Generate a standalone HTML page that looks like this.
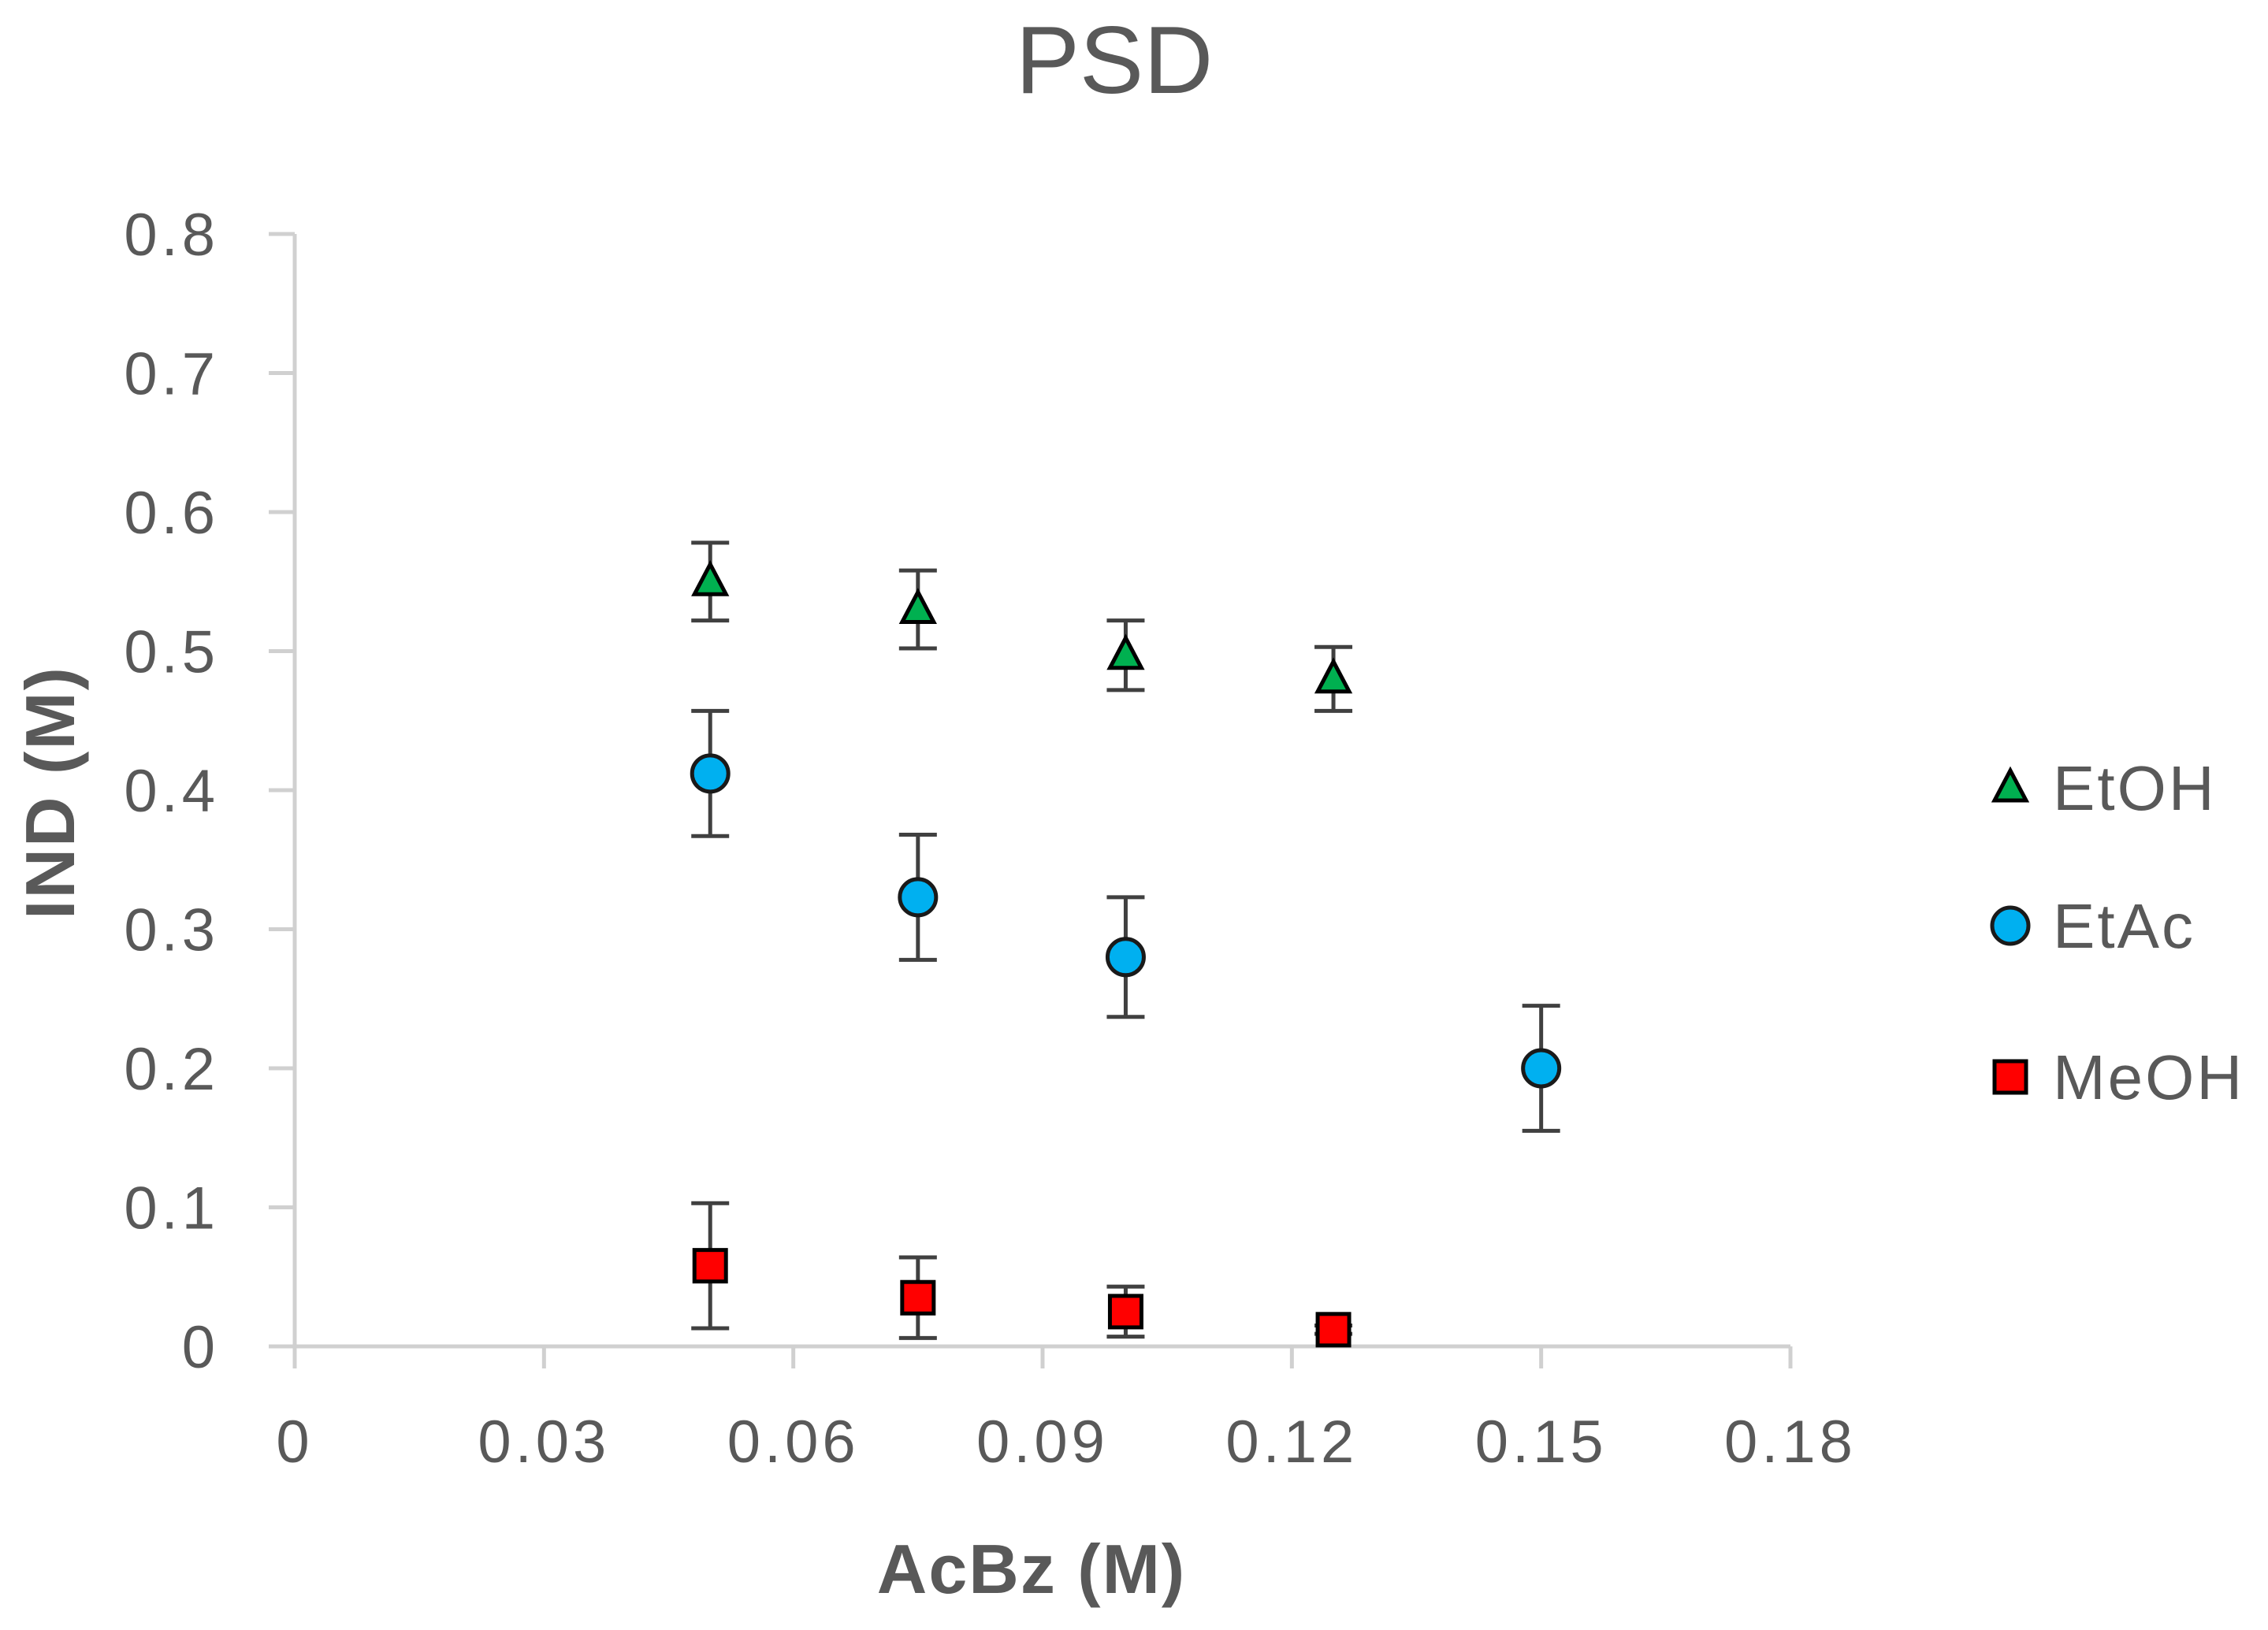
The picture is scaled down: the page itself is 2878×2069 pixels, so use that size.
<!DOCTYPE html>
<html><head><meta charset="utf-8"><style>
html,body{margin:0;padding:0;background:#fff}
svg{display:block}
text{font-family:"Liberation Sans",sans-serif}
</style></head><body>
<svg id="chart" width="2878" height="2069" viewBox="0 0 2878 2069">
<text x="1414" y="118" text-anchor="middle" font-size="122" fill="#595959">PSD</text>
<g id="axes"></g>
<g id="marks"></g>
<text x="1309" y="2022" text-anchor="middle" font-size="88" font-weight="bold" fill="#595959" letter-spacing="2">AcBz (M)</text>
<text transform="translate(94,1006) rotate(-90)" text-anchor="middle" font-size="88" font-weight="bold" fill="#595959" letter-spacing="2">IND (M)</text>
<g id="legend"></g>
</svg>
<script>
const xTicks = [0, 0.03, 0.06, 0.09, 0.12, 0.15, 0.18];
const xTickLabels = ["0", "0.03", "0.06", "0.09", "0.12", "0.15", "0.18"];
const yTicks = [0, 0.1, 0.2, 0.3, 0.4, 0.5, 0.6, 0.7, 0.8];
const yTickLabels = ["0", "0.1", "0.2", "0.3", "0.4", "0.5", "0.6", "0.7", "0.8"];
const seriesNames = ["EtOH", "EtAc", "MeOH"];
const etohX = [0.05, 0.075, 0.1, 0.125];
const etohY = [0.55, 0.53, 0.497, 0.48];
const etohErr = [0.028, 0.028, 0.025, 0.023];
const etacX = [0.05, 0.075, 0.1, 0.15];
const etacY = [0.412, 0.323, 0.28, 0.2];
const etacErr = [0.045, 0.045, 0.043, 0.045];
const meohX = [0.05, 0.075, 0.1, 0.125];
const meohY = [0.058, 0.035, 0.025, 0.012];
const meohErr = [0.045, 0.029, 0.018, 0.003];

const NS = "http://www.w3.org/2000/svg";
const X0 = 374, X1 = 2272, Y0 = 1709, Y1 = 297;
function sx(v){ return X0 + (v - 0) / 0.18 * (X1 - X0); }
function sy(v){ return Y0 - (v - 0) / 0.8 * (Y0 - Y1); }
function mk(tag, attrs, parent){
  const e = document.createElementNS(NS, tag);
  for (const k in attrs) e.setAttribute(k, attrs[k]);
  parent.appendChild(e);
  return e;
}
const axes = document.getElementById("axes");
const marks = document.getElementById("marks");
const legend = document.getElementById("legend");
const axisCol = "#d0d0d0";

let l = mk("line", {x1: X0, y1: Y1, x2: X0, y2: Y0, stroke: axisCol, "stroke-width": 5}, axes);


l = mk("line", {x1: X0 - 33, y1: Y0, x2: X1, y2: Y0, stroke: axisCol, "stroke-width": 5}, axes);



yTicks.forEach((v, i) => {
  const y = sy(v);
  const t = mk("line", {x1: X0 - 33, y1: y, x2: X0, y2: y, stroke: axisCol, "stroke-width": 5}, axes);
  
  
  const tx = mk("text", {x: 278, y: y + 27, "text-anchor": "end", "font-size": 76, "letter-spacing": 5, fill: "#595959"}, axes);
  tx.textContent = yTickLabels[i];
  
  
});
xTicks.forEach((v, i) => {
  const x = sx(v);
  const t = mk("line", {x1: x, y1: Y0, x2: x, y2: Y0 + 28, stroke: axisCol, "stroke-width": 5}, axes);
  
  
  const tx = mk("text", {x: x, y: 1856, "text-anchor": "middle", "font-size": 76, "letter-spacing": 5, fill: "#595959"}, axes);
  tx.textContent = xTickLabels[i];
  
  
});

function errBar(x, y, e, name){
  const g = mk("g", {stroke: "#404040", "stroke-width": 5}, marks);
  
  
  const px = sx(x), yt = sy(y + e), yb = sy(y - e);
  mk("line", {x1: px, y1: yt, x2: px, y2: yb}, g);
  mk("line", {x1: px - 24, y1: yt, x2: px + 24, y2: yt}, g);
  mk("line", {x1: px - 24, y1: yb, x2: px + 24, y2: yb}, g);
}
function triangle(cx, cy, parent){
  return mk("polygon", {points: `${cx},${cy - 22} ${cx - 20},${cy + 16} ${cx + 20},${cy + 16}`, fill: "#00b050", stroke: "#000", "stroke-width": 5, "stroke-linejoin": "miter"}, parent);
}
function circle(cx, cy, parent){
  return mk("circle", {cx: cx, cy: cy, r: 23, fill: "#00b0f0", stroke: "#1a1a1a", "stroke-width": 5}, parent);
}
function square(cx, cy, parent){
  return mk("rect", {x: cx - 20, y: cy - 20, width: 40, height: 40, fill: "#ff0000", stroke: "#000", "stroke-width": 5}, parent);
}

etohX.forEach((x, i) => errBar(x, etohY[i], etohErr[i], 'etoh-error-bar'));
etacX.forEach((x, i) => errBar(x, etacY[i], etacErr[i], 'etac-error-bar'));
meohX.forEach((x, i) => errBar(x, meohY[i], meohErr[i], 'meoh-error-bar'));
etohX.forEach((x, i) => {
  const p = triangle(sx(x), sy(etohY[i]), marks);
  
  
});
etacX.forEach((x, i) => {
  const p = circle(sx(x), sy(etacY[i]), marks);
  
  
});
meohX.forEach((x, i) => {
  const p = square(sx(x), sy(meohY[i]), marks);
  
  
});

const legY = [1000, 1175, 1367];
const shapes = [triangle, circle, square];
seriesNames.forEach((n, i) => {
  const g = mk("g", {}, legend);
  
  
  shapes[i](2551, legY[i], g);
  const t = mk("text", {x: 2605, y: legY[i] + 28, "font-size": 80, "letter-spacing": 3, fill: "#595959"}, g);
  t.textContent = n;
});
</script>
</body></html>
